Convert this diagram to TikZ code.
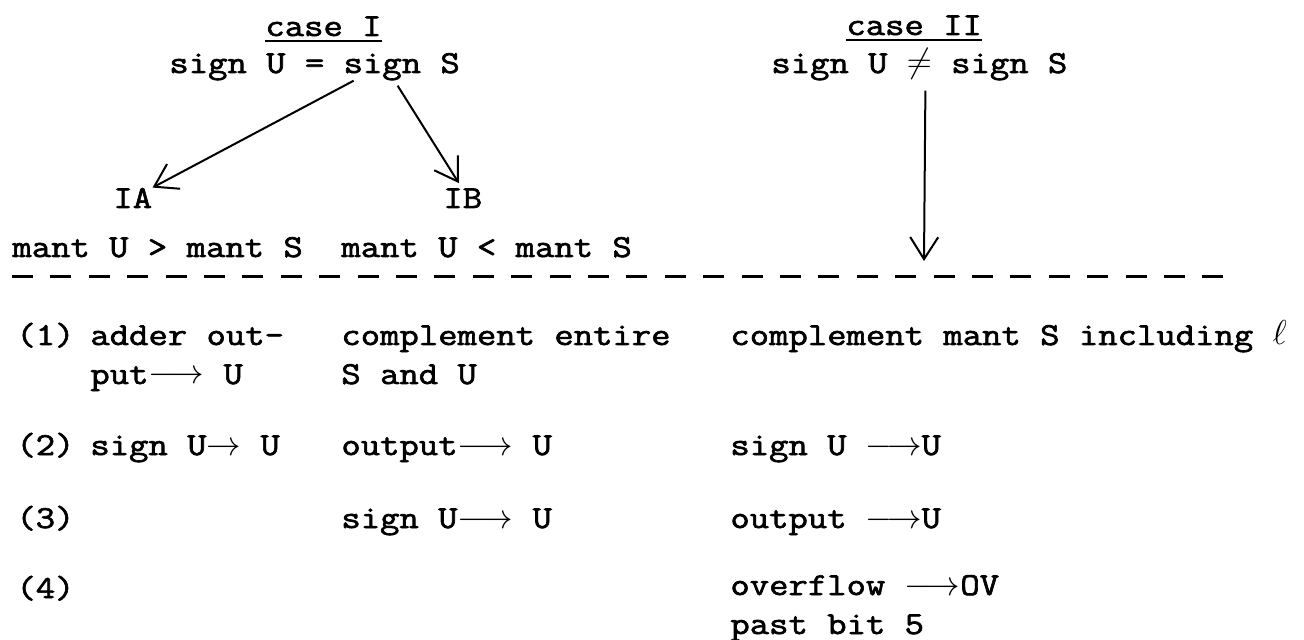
\documentclass[tikz,border=0pt]{standalone}
\usepackage{amsmath}
\usepackage{fontspec}
\newfontfamily\typewriter{Latin Modern Mono}[FakeStretch=1.175, FakeBold=2]
\usepackage{tikz}
\usetikzlibrary{positioning}
\usetikzlibrary{calc}
\usetikzlibrary{arrows.meta}

\tikzset{
    txt/.style={anchor=base west, inner sep=0pt, align=left,
        font=\fontsize{16}{19.5}\selectfont\typewriter},
    flow/.style={line width=1pt, -{Straight Barb[length=11pt, width=14pt]}},
    divider/.style={line width=1.5pt, dash pattern=on 10.5pt off 8.7pt},
}

\begin{document}
\begin{tikzpicture}[x=0.5pt, y=-0.5pt]
    \useasboundingbox (0,0) rectangle (1304,640);

    % the two cases
    \node[txt] (caseI) at (265,36) {\underline{case I}};
    \node[txt] (signI) at (169,73) {sign U = sign S};
    \node[txt] (caseII) at (846,35) {\underline{case II}};
    \node[txt] (signII) at (771,73) {sign U $\neq$ sign S};

    % sub cases of case I
    \node[txt] (IA) at (113,208) {IA};
    \node[txt] (IB) at (443,208) {IB};
    \node[txt] (mantIA) at (12,257) {mant U > mant S};
    \node[txt] (mantIB) at (341,257) {mant U < mant S};

    \draw[flow] ([xshift=19.5pt]signI.south) -- (IA.north east);
    \draw[flow] ([xshift=41.5pt, yshift=-2.5pt]signI.south) -- ([xshift=-2pt, yshift=2.5pt]IB.north);

    \coordinate (ruleW) at (12,277);
    \coordinate (ruleE) at (1238,277);
    \coordinate (tipII) at (924,261);
    \draw[flow] ([xshift=3pt, yshift=-5pt]signII.south) -- (tipII);
    \draw[divider] (ruleW) -- (ruleE);

    % steps (two-line cells sit on their last line)
    \foreach \n/\y in {1/345, 2/455, 3/528, 4/598}
        \node[txt] (step\n) at (16,\y) {(\n)};

    \node[txt] (IAone) at (90,384) {adder out-\\put$\longrightarrow$ U};
    \node[txt] (IAtwo) at (90,455) {sign U$\rightarrow$ U};

    \node[txt] (IBone) at (341,384) {complement entire\\S and U};
    \node[txt] (IBtwo) at (341,455) {output$\longrightarrow$ U};
    \node[txt] (IBthree) at (341,528) {sign U$\longrightarrow$ U};

    \node[txt] (IIone) at (730,345) {complement mant S including $\ell$};
    \node[txt] (IItwo) at (730,455) {sign U $\longrightarrow$U};
    \node[txt] (IIthree) at (730,528) {output $\longrightarrow$U};
    \node[txt] (IIfour) at (730,634) {overflow $\longrightarrow$OV\\past bit 5};
\end{tikzpicture}
\end{document}
